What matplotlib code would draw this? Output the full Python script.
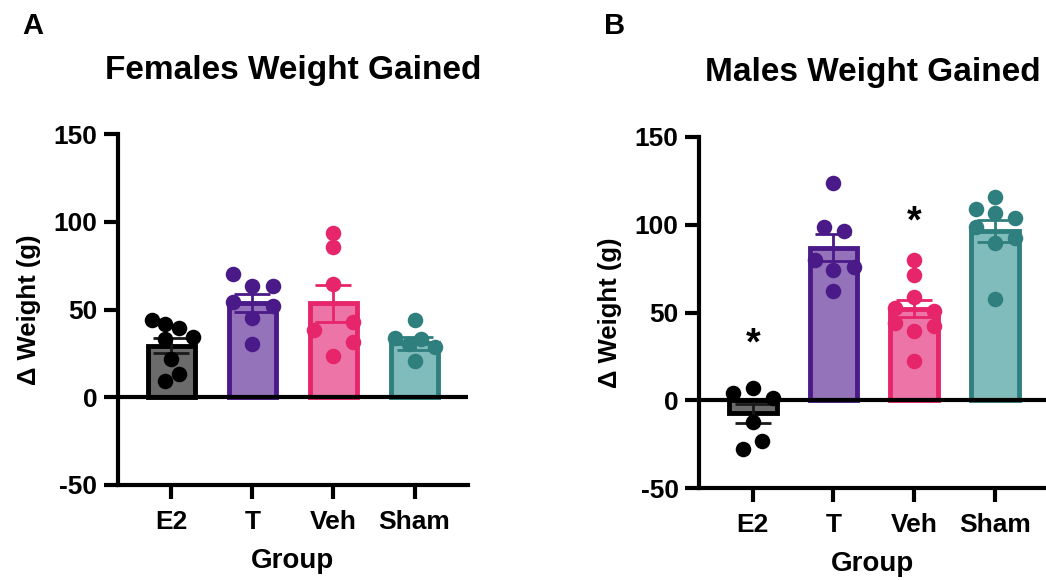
import numpy as np
import matplotlib.pyplot as plt

plt.rcParams['font.family'] = ['Liberation Sans', 'DejaVu Sans']
plt.rcParams['font.weight'] = 'bold'
plt.rcParams['axes.unicode_minus'] = False

groups = ['E2', 'T', 'Veh', 'Sham']
fill_colors = ['#6b6b6b', '#9473bb', '#ec74a7', '#80bcbb']
edge_colors = ['#000000', '#4a1a88', '#e6256b', '#2f7f7e']

# females: bar means / SEM
f_mean = [29.5, 53.8, 53.5, 30.7]
f_sem = [4.4, 5.0, 10.5, 3.5]
f_pts = [
    [44.3, 41.9, 39.6, 33.3, 34.3, 22.0, 13.0, 9.3],
    [70.3, 63.3, 63.3, 54.2, 52.3, 45.3, 30.1],
    [93.4, 85.4, 64.6, 38.5, 42.8, 31.4, 23.3],
    [43.8, 33.9, 33.0, 30.1, 28.6, 20.6],
]
f_dx = [
    [-0.24, -0.08, 0.09, -0.08, 0.26, 0.0, 0.09, -0.08],
    [-0.24, 0.0, 0.25, -0.24, 0.25, 0.0, 0.0],
    [0.0, 0.0, 0.0, -0.235, 0.245, 0.245, 0.0],
    [0.0, -0.235, 0.08, -0.07, 0.25, 0.0],
]

# males
m_mean = [-7.4, 87.0, 52.3, 96.2]
m_sem = [5.4, 7.8, 4.8, 6.3]
m_pts = [
    [4.4, 7.2, 1.5, -12.0, -23.0, -27.6],
    [123.5, 98.5, 96.6, 80.0, 76.1, 74.3, 62.5],
    [80.0, 71.4, 59.1, 52.5, 51.1, 44.3, 42.4, 39.8, 22.7],
    [115.9, 108.7, 106.5, 103.6, 98.5, 92.3, 89.4, 57.6],
]
m_dx = [
    [-0.24, 0.0, 0.25, 0.0, 0.12, -0.12],
    [0.0, -0.12, 0.13, -0.23, 0.25, 0.0, 0.0],
    [0.0, 0.0, 0.0, -0.24, 0.25, -0.24, 0.25, 0.0, 0.0],
    [0.0, -0.24, 0.0, 0.25, -0.24, 0.25, 0.0, 0.0],
]
m_star_idx = [0, 2]
m_star_y = [32.0, 101.5]

fig = plt.figure(figsize=(10.46, 5.8), dpi=100)
ax1 = fig.add_axes([0.1128, 0.1638, 0.3346, 0.605])
ax2 = fig.add_axes([0.6686, 0.158, 0.3314, 0.606])


def draw_panel(ax, means, sems, pts, dxs, title, xright):
    x = np.arange(len(groups))
    ax.bar(x, means, width=0.59, color=fill_colors, edgecolor=edge_colors,
           linewidth=3.5, zorder=2)
    ax.axhline(0, color='black', linewidth=3, zorder=3)
    for i in range(len(groups)):
        ax.errorbar(x[i], means[i], yerr=sems[i], color=edge_colors[i] if i else '#1a1a1a',
                    elinewidth=2, capsize=13, capthick=2, zorder=4)
        ax.scatter(x[i] + np.array(dxs[i]), pts[i], s=125, color=edge_colors[i],
                   linewidths=0, zorder=5)
    ax.set_xlim(-0.66, xright)
    ax.set_ylim(-50, 150)
    ax.set_yticks([-50, 0, 50, 100, 150])
    ax.set_xticks(x)
    ax.set_xticklabels(groups)
    for s in ['top', 'right']:
        ax.spines[s].set_visible(False)
    for s in ['left', 'bottom']:
        ax.spines[s].set_linewidth(3)
    ax.tick_params(axis='both', width=3, length=10, labelsize=19)
    ax.tick_params(axis='x', pad=8)
    ax.tick_params(axis='y', pad=5)
    ax.set_xlabel('Group', fontsize=20, fontweight='bold', labelpad=10)
    ax.set_ylabel('Δ Weight (g)', fontsize=18.5, fontweight='bold', labelpad=9)
    ax.set_title(title, fontsize=24, fontweight='bold', pad=40)
    for lab in ax.get_xticklabels() + ax.get_yticklabels():
        lab.set_fontweight('bold')


draw_panel(ax1, f_mean, f_sem, f_pts, f_dx, 'Females Weight Gained', 3.66)
draw_panel(ax2, m_mean, m_sem, m_pts, m_dx, 'Males Weight Gained', 3.63)

for i, y in zip(m_star_idx, m_star_y):
    ax2.text(i, y, '*', ha='center', va='center', fontsize=27, fontweight='bold')

fig.text(0.021, 0.955, 'A', fontsize=21, fontweight='bold', va='center')
fig.text(0.577, 0.955, 'B', fontsize=21, fontweight='bold', va='center')

fig.savefig('out.png', dpi=100)
